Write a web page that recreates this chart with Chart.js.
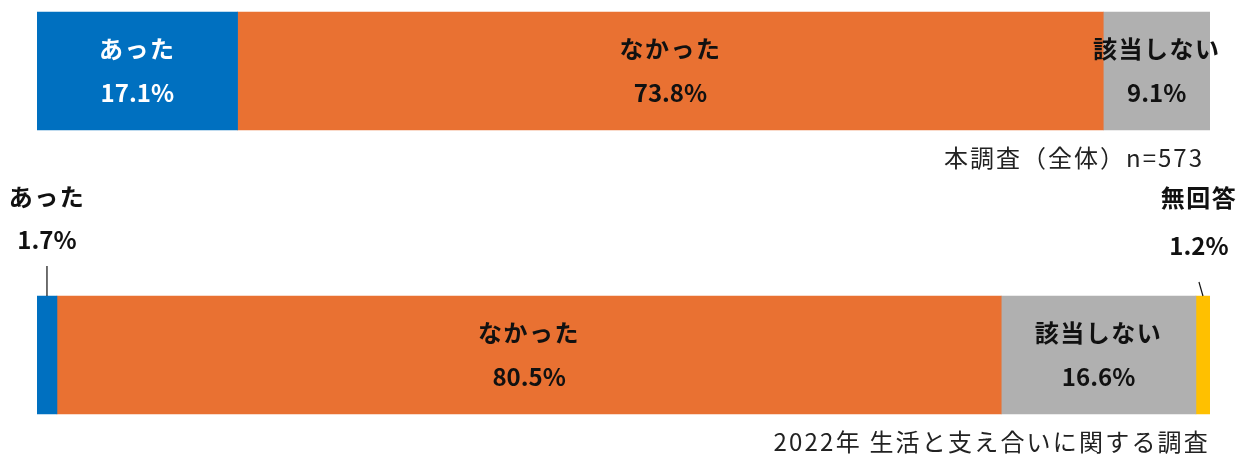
<!DOCTYPE html>
<html lang="ja">
<head>
<meta charset="utf-8">
<script src="https://cdn.jsdelivr.net/npm/chart.js@4"></script>
<style>
    html, body { margin: 0; padding: 0; background: #fff; }
    #wrap { width: 1244px; height: 456px; position: relative; }
</style>
</head>
<body>
<div id="wrap"><canvas id="chart"></canvas></div>
<script>
// Data
const categories = ['本調査（全体）', '', '2022年調査'];
const seriesNames = ['あった', 'なかった', '該当しない', '無回答'];
const atta = [17.1, null, 1.7];
const nakatta = [73.8, null, 80.5];
const gaitouShinai = [9.1, null, 16.6];
const mukaitou = [null, null, 1.2];
const notes = ['本調査（全体）n=573', '', '2022年 生活と支え合いに関する調査'];

const colors = ['#0070C0', '#E97132', '#B0B0B0', '#FFC000'];
const textColors = ['#ffffff', '#111111', '#111111', '#111111'];
const FONT = '"Noto Sans CJK JP", "Noto Sans", sans-serif';

// Small segments get their label above the bar with a leader line
const outside = { '0-2': { dx: 0, lineTop: -30, lineDx: 0 }, '3-2': { dx: -4, lineTop: -14, lineDx: -4 } };

function drawPair(ctx, name, value, x, yName, yVal) {
    ctx.letterSpacing = '1.5px';
    ctx.fillText(name, x, yName);
    ctx.letterSpacing = '0px';
    ctx.fillText(value, x, yVal);
}

const labelPlugin = {
    id: 'segmentLabels',
    afterDatasetsDraw(chart) {
        const ctx = chart.ctx;
        ctx.save();
        ctx.textAlign = 'center';
        ctx.textBaseline = 'middle';
        ctx.font = 'bold 24px ' + FONT;
        chart.data.datasets.forEach((ds, di) => {
            const meta = chart.getDatasetMeta(di);
            meta.data.forEach((bar, i) => {
                const v = ds.data[i];
                if (v === null || v === undefined) return;
                const cx = (bar.x + bar.base) / 2;
                const top = bar.y - bar.height / 2;
                const txt = v.toFixed(1) + '%';
                const o = outside[di + '-' + i];
                if (o) {
                    ctx.fillStyle = '#111';
                    const yName = di === 0 ? top - 99 : top - 98;
                    const yVal = di === 0 ? top - 56 : top - 50;
                    drawPair(ctx, ds.label, txt, cx + o.dx, yName, yVal);
                    ctx.strokeStyle = '#111';
                    ctx.lineWidth = 1.2;
                    ctx.beginPath();
                    ctx.moveTo(cx + o.lineDx, top + o.lineTop);
                    ctx.lineTo(cx, top);
                    ctx.stroke();
                } else {
                    ctx.fillStyle = textColors[di];
                    drawPair(ctx, ds.label, txt, cx, bar.y - 22, bar.y + 22);
                }
            });
        });
        ctx.restore();
    },
    afterDraw(chart) {
        const ctx = chart.ctx;
        const area = chart.chartArea;
        const yScale = chart.scales.y;
        ctx.save();
        ctx.font = '24px ' + FONT;
        ctx.fillStyle = '#222';
        ctx.textAlign = 'right';
        ctx.textBaseline = 'middle';
        notes.forEach((n, i) => {
            if (!n) return;
            const y = yScale.getPixelForValue(i) + 59 + 28;
            if (i === 0) {
                ctx.letterSpacing = '2px';
                ctx.fillText(n, area.right - 6, y);
            } else {
                ctx.letterSpacing = '2.2px';
                ctx.fillText(n, area.right, y);
            }
        });
        ctx.restore();
    }
};

const ctx = document.getElementById('chart').getContext('2d');
new Chart(ctx, {
    type: 'bar',
    data: {
        labels: categories,
        datasets: [atta, nakatta, gaitouShinai, mukaitou].map((d, i) => ({
            label: seriesNames[i],
            data: d,
            backgroundColor: colors[i],
            borderWidth: 0,
            barThickness: 118
        }))
    },
    options: {
        indexAxis: 'y',
        responsive: true,
        maintainAspectRatio: false,
        animation: false,
        layout: { padding: { left: 37, right: 34, top: 0, bottom: 30 } },
        plugins: {
            legend: { display: false },
            tooltip: { enabled: false }
        },
        scales: {
            x: { stacked: true, min: 0, max: 100, display: false },
            y: { stacked: true, display: false }
        }
    },
    plugins: [labelPlugin]
});
</script>
</body>
</html>
